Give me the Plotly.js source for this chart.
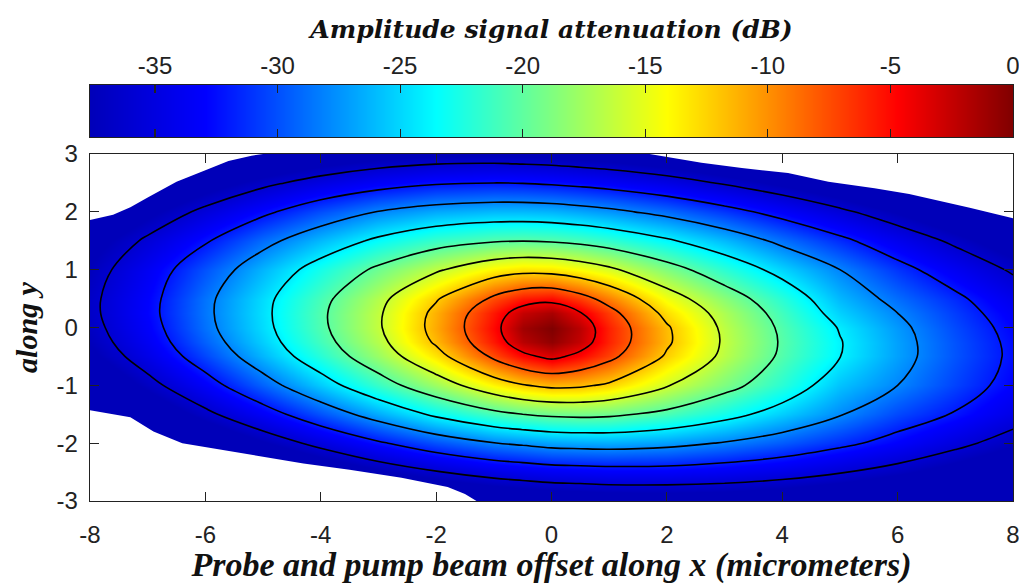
<!DOCTYPE html>
<html>
<head>
<meta charset="utf-8">
<script src="https://cdn.plot.ly/plotly-3.0.1.min.js"></script>
<style>html,body{margin:0;padding:0;background:#fff;}#chart{width:1019px;height:584px;}</style>
</head>
<body>
<div id="chart"></div>
<script>
// Grid positions (micrometers)
var xGrid = [-8, -7, -6, -5, -4, -3, -2, -1, -0.5, 0, 0.5, 1, 2, 3, 4, 5, 6, 7, 8];
var yGrid = [-3, -2.5, -2, -1.5, -1, -0.5, -0.25, 0, 0.25, 0.5, 1, 1.5, 2, 2.5, 3];

// Amplitude signal attenuation (dB), one row per yGrid value
var attY_m3_0  = [-52, -50, -48, -46, -44.5, -43.6, -42.1, -40.9, -40.4, -40.0, -39.8, -39.5, -39.4, -39.5, -40.0, -40.8, -41.8, -43.0, -44.4];
var attY_m2_5  = [-49, -47, -45, -42.8, -40.3, -38.1, -36.2, -34.7, -34.2, -33.7, -33.5, -33.3, -33.3, -33.8, -34.6, -35.8, -37.2, -38.8, -40.5];
var attY_m2_0  = [-46.8, -44, -40.9, -37.9, -35.1, -32.4, -30.0, -28.1, -27.5, -26.9, -26.7, -26.6, -27.1, -28.2, -29.6, -31.3, -33.1, -35.2, -37.3];
var attY_m1_5  = [-44, -40.2, -36.7, -33.4, -29.9, -26.6, -23.4, -20.9, -20.0, -19.4, -19.2, -19.4, -20.8, -22.9, -25.3, -27.8, -30.3, -32.2, -34.6];
var attY_m1_0  = [-40.8, -37.0, -33.3, -29.3, -25.4, -21.5, -17.7, -13.8, -12.2, -11.3, -11.5, -12.5, -15.8, -18.9, -22.0, -25.75, -28.0, -30.5, -33.0];
var attY_m0_5  = [-38.3, -34.5, -30.4, -26.2, -22.1, -17.9, -13.2, -7.4, -4.8, -3.24, -4.85, -7.1, -12.4, -16.7, -20.5, -23.95, -27.04, -29.86, -32.5];
var attY_m0_25 = [-37.5, -33.7, -29.4, -25.3, -21.1, -16.9, -11.55, -5.55, -2.1, -0.64, -2.53, -5.94, -11.55, -16.4, -20.3, -23.85, -27.04, -29.9, -32.6];
var attY_0     = [-37.0, -33.2, -28.8, -24.8, -20.6, -16.35, -10.95, -4.93, -1.22, 0, -2.16, -5.85, -11.67, -16.6, -20.5, -24.2, -27.3, -30.2, -32.9];
var attY_p0_25 = [-36.7, -32.9, -28.6, -24.65, -20.5, -16.4, -11.2, -5.5, -2.55, -1.5, -3.85, -6.9, -12.9, -17.2, -21.1, -25.2, -28.0, -30.7, -33.45];
var attY_p0_5  = [-36.7, -33.0, -28.7, -24.8, -20.85, -16.9, -12.3, -7.4, -5.5, -5.0, -6.8, -9.3, -14.5, -18.4, -22.0, -26.1, -28.9, -31.4, -34.2];
var attY_p1_0  = [-37.4, -33.7, -29.9, -26.2, -22.7, -19.4, -16.4, -13.7, -13.0, -13.2, -14.1, -15.4, -18.7, -21.9, -25.0, -28.0, -31.0, -33.7, -36.4];
var attY_p1_5  = [-38.8, -35.5, -32.3, -28.9, -26.0, -23.4, -21.4, -20.3, -20.1, -20.3, -20.8, -21.6, -23.6, -26.0, -28.7, -31.3, -34.0, -36.6, -39.3];
var attY_p2_0  = [-41.4, -38.2, -35.3, -32.6, -30.0, -27.9, -26.6, -26.0, -26.0, -26.2, -26.7, -27.3, -28.9, -30.9, -33.1, -35.4, -37.8, -40.3, -43.1];
var attY_p2_5  = [-44.4, -41.5, -38.9, -36.7, -34.8, -33.3, -32.3, -32.0, -32.1, -32.4, -32.8, -33.3, -34.6, -36.3, -38.1, -40.0, -42.5, -44.8, -46.5];
var attY_p3_0  = [-48, -45.2, -43.1, -41.2, -39.7, -38.6, -38.0, -37.9, -38.1, -38.3, -38.7, -39.1, -40.2, -41.6, -43.2, -45.0, -47.5, -47.5, -48];

// Contour levels (dB)
var contourStart = -36, contourEnd = -4, contourStep = 4;

// Colour range of the colour bar (dB)
var cbMin = -37.65, cbMax = 0;
var cbTickVals = [-35, -30, -25, -20, -15, -10, -5, 0];
var cbTickText = ['-35', '-30', '-25', '-20', '-15', '-10', '-5', '0'];
var cbLevels = [-37.65, -35, -30, -25, -20, -15, -10, -5, 0];

// Axis ticks
var xTickVals = [-8, -6, -4, -2, 0, 2, 4, 6, 8];
var xTickText = ['-8', '-6', '-4', '-2', '0', '2', '4', '6', '8'];
var yTickVals = [-3, -2, -1, 0, 1, 2, 3];
var yTickText = ['-3', '-2', '-1', '0', '1', '2', '3'];

var blankTopLeftX = [-8, -8, -7.6, -7.3, -7.0, -6.5, -6.0, -5.6, -5.2, -5.0, -8];
var blankTopLeftY = [3, 1.86, 1.95, 2.08, 2.25, 2.52, 2.72, 2.88, 2.97, 3.0, 3];
var blankTopRightX = [1.7, 2.6, 3.3, 4.1, 4.8, 5.6, 6.2, 6.7, 7.25, 8, 8, 1.7];
var blankTopRightY = [3.0, 2.85, 2.76, 2.67, 2.52, 2.41, 2.31, 2.2, 2.07, 1.89, 3, 3];
var blankBottomLeftX = [-8, -8, -7.3, -6.9, -6.4, -5.7, -5.0, -4.3, -3.5, -2.6, -1.8, -1.5, -1.3, -8];
var blankBottomLeftY = [-3, -1.43, -1.55, -1.8, -2.0, -2.12, -2.24, -2.35, -2.46, -2.6, -2.76, -2.88, -3, -3];

var zGrid = [attY_m3_0, attY_m2_5, attY_m2_0, attY_m1_5, attY_m1_0, attY_m0_5, attY_m0_25,
             attY_0, attY_p0_25, attY_p0_5, attY_p1_0, attY_p1_5, attY_p2_0, attY_p2_5, attY_p3_0];

var jet = [[0, 'rgb(0,0,185)'], [0.125, 'rgb(0,0,255)'], [0.375, 'rgb(0,255,255)'],
           [0.625, 'rgb(255,255,0)'], [0.875, 'rgb(255,0,0)'], [1, 'rgb(128,0,0)']];

var axisColor = '#222';
var tickFont = {family: 'Liberation Sans, Arial, sans-serif', size: 24, color: '#222'};
var serifTitle = {family: 'Liberation Serif, Times New Roman, serif', size: 34, color: '#111', weight: 'bold', style: 'italic'};

function blank(xs, ys) {
  return {type: 'scatter', mode: 'lines', x: xs, y: ys, fill: 'toself', fillcolor: '#ffffff',
          line: {width: 0, color: '#ffffff'}, hoverinfo: 'skip', showlegend: false, xaxis: 'x', yaxis: 'y'};
}

var traces = [
  {type: 'heatmap', x: xGrid, y: yGrid, z: zGrid, zmin: cbMin, zmax: cbMax, colorscale: jet,
   zsmooth: 'best', showscale: false, hoverinfo: 'skip', xaxis: 'x', yaxis: 'y'},
  {type: 'contour', x: xGrid, y: yGrid, z: zGrid, autocontour: false,
   contours: {start: contourStart, end: contourEnd, size: contourStep, coloring: 'none'},
   line: {color: '#000', width: 1.6, smoothing: 1}, showscale: false, hoverinfo: 'skip', xaxis: 'x', yaxis: 'y'},
  blank(blankTopLeftX, blankTopLeftY),
  blank(blankTopRightX, blankTopRightY),
  blank(blankBottomLeftX, blankBottomLeftY),
  {type: 'heatmap', x: cbLevels, y: [0, 1], z: [cbLevels, cbLevels], zmin: cbMin, zmax: cbMax,
   colorscale: jet, zsmooth: 'best', showscale: false, hoverinfo: 'skip', xaxis: 'x2', yaxis: 'y2'}
];

var layout = {
  width: 1019, height: 584,
  margin: {l: 90, r: 6, t: 0, b: 83, pad: 0},
  paper_bgcolor: '#ffffff', plot_bgcolor: '#ffffff',
  showlegend: false, hovermode: false,
  xaxis: {
    domain: [0, 1], anchor: 'y', range: [-8, 8], tickmode: 'array', tickvals: xTickVals, ticktext: xTickText,
    ticks: 'inside', ticklen: 9, tickwidth: 1.2, tickcolor: axisColor, showline: true, linecolor: axisColor,
    linewidth: 1.3, mirror: 'ticks', showgrid: false, zeroline: false, tickfont: tickFont, ticklabelstandoff: 12,
    ticklabeloverflow: 'allow',
    title: {text: 'Probe and pump beam offset along x (micrometers)', font: serifTitle, standoff: 6}
  },
  yaxis: {
    domain: [0, 0.6926], anchor: 'x', range: [-3, 3], tickmode: 'array', tickvals: yTickVals, ticktext: yTickText,
    ticks: 'inside', ticklen: 9, tickwidth: 1.2, tickcolor: axisColor, showline: true, linecolor: axisColor,
    linewidth: 1.3, mirror: 'ticks', showgrid: false, zeroline: false, tickfont: tickFont, ticklabelstandoff: 6,
    ticklabeloverflow: 'allow',
    title: {text: 'along y', font: {family: 'Liberation Serif, Times New Roman, serif', size: 30, color: '#111', weight: 'bold', style: 'italic'}, standoff: 10}
  },
  xaxis2: {
    domain: [0, 1], anchor: 'y2', side: 'top', range: [cbMin, cbMax], tickmode: 'array',
    tickvals: cbTickVals, ticktext: cbTickText,
    ticks: 'inside', ticklen: 8, tickwidth: 1.2, tickcolor: axisColor, showline: true, linecolor: axisColor,
    linewidth: 1.3, mirror: 'ticks', showgrid: false, zeroline: false, tickfont: tickFont, ticklabelstandoff: 0,
    ticklabeloverflow: 'allow',
    title: {text: 'Amplitude signal attenuation (dB)',
            font: {family: 'DejaVu Serif, serif', size: 25, color: '#111', weight: 'bold', style: 'italic'}, standoff: 6}
  },
  yaxis2: {
    domain: [0.7265, 0.8303], anchor: 'x2', range: [0, 1], showticklabels: false, ticks: '',
    showline: true, linecolor: axisColor, linewidth: 1.3, mirror: true, showgrid: false, zeroline: false
  }
};

Plotly.newPlot('chart', traces, layout, {displayModeBar: false, staticPlot: true});
</script>
</body>
</html>
